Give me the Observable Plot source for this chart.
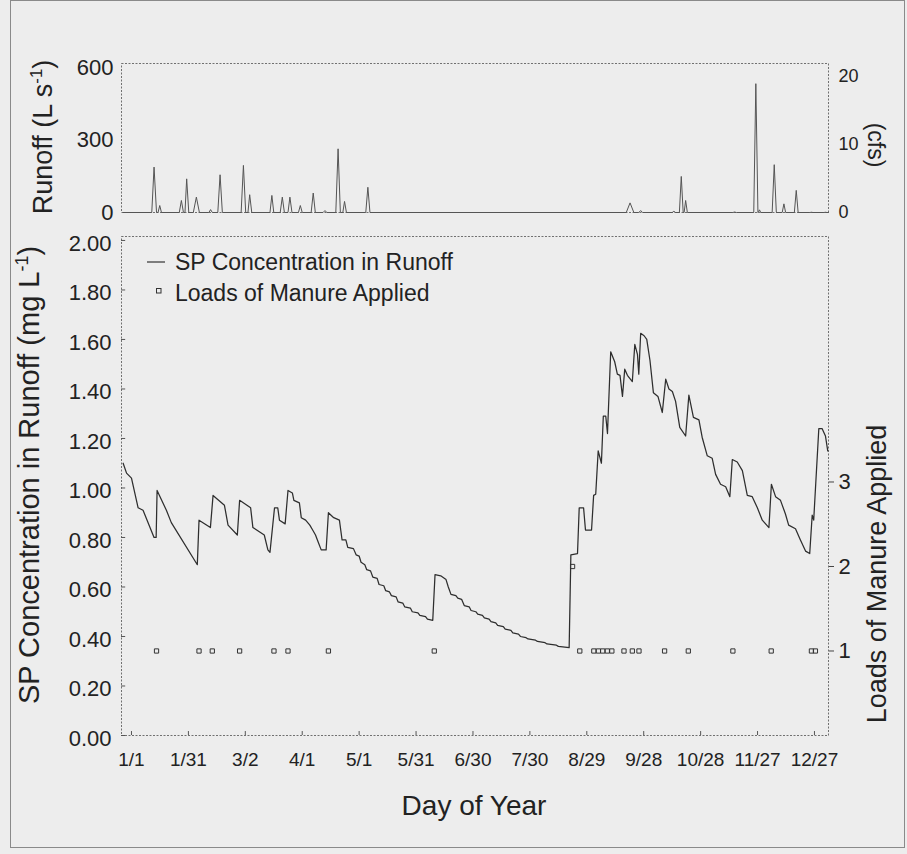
<!DOCTYPE html>
<html><head><meta charset="utf-8">
<script src="https://cdn.jsdelivr.net/npm/d3@7"></script>
<script src="https://cdn.jsdelivr.net/npm/@observablehq/plot@0.6"></script>
<style>
body{margin:0;background:#ededed;}
#wrap{position:relative;width:907px;height:854px;background:#ededed;font-family:Arial,"Liberation Sans",sans-serif;overflow:hidden;color:#222}
#wrap svg{position:absolute;left:0;}
</style></head><body><div id="wrap"></div>
<script>
// ---------- data ----------
const tickDays   = [1, 31, 61, 91, 121, 151, 181, 211, 241, 271, 301, 331, 361];
const tickLabels = ["1/1","1/31","3/2","4/1","5/1","5/31","6/30","7/30","8/29","9/28","10/28","11/27","12/27"];
const concTicks   = [0, 0.2, 0.4, 0.6, 0.8, 1.0, 1.2, 1.4, 1.6, 1.8, 2.0];
const runoffTicks = [0, 300, 600];
const cfsTicks    = [0, 10, 20];
const loadTicks   = [1, 2, 3];

// SP concentration in runoff (mg/L) by day of year
const concDay = [-3.4,-1.6,1,4.5,7.1,12.9,14.0,14.5,19.4,22,35.7,36.6,42.6,44,50,51.9,56.8,58,63.8,65,71,72.9,74,76.4,78.1,79,82,83.5,85.8,86.6,89.5,90.5,92.8,95,96.5,98,99.5,101,103.6,104.8,107.6,110.6,112,114,115,118,119.4,121,122,124,125,127,128.2,130.5,131.5,134,135,137,138,140.5,141.5,144,145,148,149,152,153,156,157,159.8,161,164,166.8,168,169.4,172,173,175,176.4,179,180,182.5,183.5,186,187,189.5,190.5,193,194,197,198,201,202,205,206,209,210,214,215,219,220,225,226,231.7,232.6,236.1,237,239.3,240.3,243.5,244.6,245.7,247,248.7,249.7,251,251.9,253.6,255.7,257.1,258.5,259.8,261,262.4,265,266.3,267.7,268.4,269.4,271.2,272.6,274.3,276.1,278.5,280.8,282.6,284.3,286.1,287.8,290,293.1,294.8,297.2,300.1,301.8,304.5,307.1,308.9,311.5,314.2,316.4,317.7,320.3,323,325.6,328.2,330.9,333.5,337,338.3,340.5,343.1,345.7,347.4,351,353.6,356.3,358.5,359.8,360.6,363.3,365,366.8,368];
const concValue = [1.10,1.06,1.04,0.92,0.91,0.80,0.80,0.99,0.91,0.86,0.69,0.87,0.84,0.97,0.93,0.85,0.81,0.95,0.92,0.84,0.81,0.75,0.74,0.92,0.92,0.87,0.855,0.99,0.98,0.95,0.94,0.88,0.87,0.85,0.83,0.81,0.78,0.75,0.75,0.90,0.88,0.87,0.79,0.79,0.76,0.755,0.73,0.725,0.70,0.69,0.67,0.665,0.64,0.635,0.61,0.605,0.585,0.58,0.565,0.56,0.54,0.535,0.52,0.515,0.50,0.495,0.485,0.48,0.47,0.465,0.65,0.645,0.63,0.60,0.57,0.565,0.555,0.55,0.525,0.52,0.505,0.50,0.49,0.485,0.475,0.47,0.46,0.455,0.445,0.44,0.43,0.425,0.415,0.41,0.40,0.395,0.39,0.385,0.38,0.375,0.37,0.365,0.36,0.355,0.73,0.735,0.92,0.92,0.83,0.83,0.97,0.975,1.15,1.10,1.29,1.29,1.22,1.55,1.51,1.46,1.455,1.37,1.48,1.455,1.43,1.58,1.54,1.46,1.625,1.615,1.60,1.515,1.385,1.37,1.305,1.44,1.40,1.39,1.35,1.245,1.21,1.375,1.285,1.275,1.205,1.13,1.12,1.055,1.015,1.005,0.965,1.115,1.105,1.07,0.97,0.965,0.92,0.87,0.84,1.015,0.965,0.95,0.895,0.85,0.835,0.79,0.745,0.735,0.89,0.87,1.24,1.24,1.21,1.15];

// Loads of manure applied
const loadDay   = [14.2,36.6,43.6,58,76.1,83.5,104.8,160.6,233.5,237.3,244.7,247.1,249.4,251.8,254.2,260.6,265,268.5,282,294.5,318,338.2,359.4,361.5];
const loadCount = [1,1,1,1,1,1,1,1,2,1,1,1,1,1,1,1,1,1,1,1,1,1,1,1];

// Runoff events (L/s): start day, peak day, end day, peak flow
const eventStart = [11.7,15.0,26.2,29.2,33.6,41.8,46.5,58.8,62.4,74,79.4,83.5,89,95.7,102,108.7,112.4,124.5,261.8,268.4,286,289.8,292.3,318,329,331.4,338.7,344,350.4,358.6,366];
const eventPeakDay = [12.9,15.9,27.3,30.1,35.2,42.7,47.7,60,63.3,75,80.5,84.5,90,96.8,103,109.9,113.3,125.6,263.8,269.4,286.9,290.8,293.1,318.9,330.1,332,339.8,344.9,351.4,359.4,366.8];
const eventEnd = [14.2,16.8,28.4,31.2,36.8,43.6,48.9,61.2,64.4,76,81.6,85.6,91,97.9,104,111.1,114.3,126.7,265.8,270.4,287.8,291.8,294,319.8,331.2,332.7,340.9,345.8,352.4,360.2,367.6];
const eventPeak = [189,29,50,140,64,12,157,196,74,71,64,64,29,81,8,265,46,105,40,8,5,150,50,2,536,11,199,36,92,1,1];
const runoffFirstDay = -3.4, runoffLastDay = 368.4;

const CFS_TO_LS = 28.3168;       // 1 cfs in L/s
const LOAD_TO_CONC = 0.3414;     // right-axis (loads) to left-axis units

// ---------- tables ----------
const conc = concDay.map((d, i) => ({day: d, value: concValue[i]}));
const loads = loadDay.map((d, i) => ({day: d, count: loadCount[i]}));
const runoff = [{day: runoffFirstDay, flow: 0}];
eventStart.forEach((s, i) => {
  runoff.push({day: s, flow: 0}, {day: eventPeakDay[i], flow: eventPeak[i]}, {day: eventEnd[i], flow: 0});
});
runoff.push({day: runoffLastDay, flow: 0});

const xDomain = [-4.26, 368.4];
const font = "Arial, 'Liberation Sans', sans-serif";
const ink = "#222";
const frameStyle = {stroke: "#707070", strokeDasharray: "2,1.5", strokeWidth: 1};

// ---------- top panel: runoff ----------
const topPlot = Plot.plot({
  width: 907, height: 225,
  marginLeft: 121, marginRight: 79, marginTop: 63, marginBottom: 13,
  x: {domain: xDomain, axis: null},
  y: {domain: [0, 620], axis: null},
  style: {background: "transparent", fontFamily: font, color: ink, overflow: "visible"},
  marks: [
    Plot.frame(frameStyle),
    Plot.axisY(runoffTicks, {anchor: "left", tickSize: 0, tickPadding: 8, fontSize: 22, label: null, tickFormat: d => String(d)}),
    Plot.axisY(cfsTicks.map(c => c * CFS_TO_LS), {anchor: "right", tickSize: 0, tickPadding: 10, fontSize: 18, label: null, tickFormat: d => String(Math.round(d / CFS_TO_LS))}),
    Plot.line(runoff, {x: "day", y: "flow", stroke: "#555", strokeWidth: 1})
  ]
});
topPlot.style.top = "0px";

// ---------- bottom panel: SP concentration ----------
const botPlot = Plot.plot({
  width: 907, height: 629,
  marginLeft: 121, marginRight: 79, marginTop: 11, marginBottom: 119,
  x: {domain: xDomain, axis: null},
  y: {domain: [0, 2.016], axis: null},
  style: {background: "transparent", fontFamily: font, color: ink, overflow: "visible"},
  marks: [
    Plot.frame(frameStyle),
    Plot.axisY(concTicks, {anchor: "left", tickSize: 0, tickPadding: 10, fontSize: 22, dy: 3, label: null, tickFormat: d3.format(".2f")}),
    Plot.ruleY(concTicks, {x1: xDomain[0], x2: xDomain[0] + 2.2, stroke: "#555"}),
    Plot.axisX(tickDays, {anchor: "bottom", tickSize: 0, tickPadding: 17, fontSize: 19, label: null, tickFormat: d => tickLabels[tickDays.indexOf(d)]}),
    Plot.ruleX(tickDays, {y1: 0, y2: 0.016, stroke: "#555"}),
    Plot.axisY(loadTicks.map(l => l * LOAD_TO_CONC), {anchor: "right", tickSize: 5, tickPadding: 5, fontSize: 22, label: null, stroke: "#444", tickFormat: d => String(Math.round(d / LOAD_TO_CONC))}),
    Plot.line(conc, {x: "day", y: "value", stroke: "#2e2e2e", strokeWidth: 1.25}),
    Plot.dot(loads, {x: "day", y: d => d.count * LOAD_TO_CONC, symbol: "square", r: 2.4, stroke: "#333", fill: "none", strokeWidth: 1})
  ]
});
botPlot.style.top = "225px";

const wrap = document.getElementById("wrap");
wrap.appendChild(topPlot);
wrap.appendChild(botPlot);

// ---------- titles, legend, border ----------
const ov = d3.select(wrap).append("svg")
  .attr("width", 907).attr("height", 854)
  .style("top", "0px").style("pointer-events", "none")
  .attr("font-family", font).attr("fill", ink);

ov.append("rect").attr("x", 10.5).attr("y", 0.5).attr("width", 894).attr("height", 847)
  .attr("fill", "none").attr("stroke", "#8a8a8a");

function supTitle(g, base, sup, tail, size) {
  const t = g.append("text").attr("font-size", size).attr("text-anchor", "middle");
  t.append("tspan").text(base);
  t.append("tspan").attr("font-size", size * 0.62).attr("dy", -size * 0.38).text(sup);
  t.append("tspan").attr("dy", size * 0.38).text(tail);
  return t;
}
supTitle(ov.append("g").attr("transform", "translate(52,137) rotate(-90)"), "Runoff (L s", "-1", ")", 27);
supTitle(ov.append("g").attr("transform", "translate(39,475) rotate(-90)"), "SP Concentration in Runoff (mg L", "-1", ")", 29);
ov.append("text").attr("transform", "translate(886,574) rotate(-90)").attr("text-anchor", "middle")
  .attr("font-size", 27).text("Loads of Manure Applied");
ov.append("text").attr("transform", "translate(868,145) rotate(90)").attr("text-anchor", "middle")
  .attr("font-size", 23).text("(cfs)");
ov.append("text").attr("x", 474).attr("y", 815).attr("text-anchor", "middle")
  .attr("font-size", 28).text("Day of Year");

// legend
ov.append("line").attr("x1", 147).attr("x2", 165).attr("y1", 262).attr("y2", 262).attr("stroke", "#333").attr("stroke-width", 1.2);
ov.append("text").attr("x", 175).attr("y", 270).attr("font-size", 23).text("SP Concentration in Runoff");
ov.append("rect").attr("x", 156.5).attr("y", 288.5).attr("width", 4.5).attr("height", 4.5).attr("fill", "none").attr("stroke", "#333");
ov.append("text").attr("x", 175).attr("y", 301).attr("font-size", 23).text("Loads of Manure Applied");
</script></body></html>
